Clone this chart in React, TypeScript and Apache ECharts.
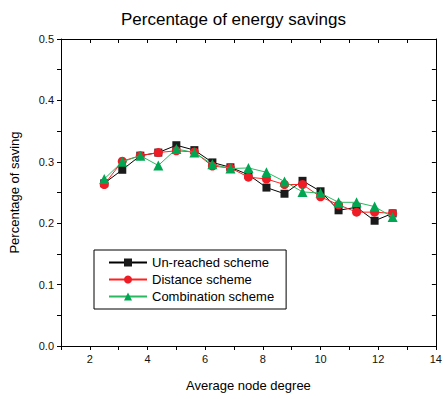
import React, { useEffect, useRef } from "react";
import * as echarts from "echarts";

const xValues = [2.5, 3.125, 3.75, 4.375, 5.0, 5.625, 6.25, 6.875, 7.5, 8.125, 8.75, 9.375, 10, 10.625, 11.25, 11.875, 12.5];
const unreached = [0.265, 0.287, 0.31, 0.315, 0.327, 0.319, 0.299, 0.291, 0.279, 0.258, 0.248, 0.269, 0.252, 0.221, 0.226, 0.204, 0.216];
const distance = [0.263, 0.301, 0.31, 0.315, 0.318, 0.316, 0.293, 0.29, 0.275, 0.272, 0.263, 0.263, 0.243, 0.23, 0.218, 0.218, 0.216];
const combination = [0.272, 0.3, 0.31, 0.294, 0.321, 0.315, 0.296, 0.289, 0.29, 0.283, 0.268, 0.251, 0.249, 0.234, 0.234, 0.227, 0.21];

const titleText = "Percentage of energy savings";
const xName = "Average node degree";
const yName = "Percentage of saving";
const seriesNames = ["Un-reached scheme", "Distance scheme", "Combination scheme"];

const FONT = "'Liberation Sans', Arial, sans-serif";

export default function App() {
  const ref = useRef<HTMLDivElement>(null);
  useEffect(() => {
    if (!ref.current) return;
    const chart = echarts.init(ref.current, undefined, { renderer: "svg" });
    const pair = (ys: number[]) => xValues.map((x, i) => [x, ys[i]]);
    const xAxisBase = {
      type: "value",
      min: 1,
      max: 14,
      interval: 1,
      splitLine: { show: false },
      axisLine: { show: true, onZero: false, lineStyle: { color: "#000", width: 1 } },
    };
    const yAxisBase = {
      type: "value",
      min: 0,
      max: 0.5,
      interval: 0.05,
      splitLine: { show: false },
      axisLine: { show: true, onZero: false, lineStyle: { color: "#000", width: 1 } },
    };
    chart.setOption({
      animation: false,
      backgroundColor: "#fff",
      textStyle: { fontFamily: FONT },
      title: {
        text: titleText,
        left: 116,
        top: 6,
        textStyle: { fontSize: 17, fontWeight: "normal", color: "#000", fontFamily: FONT },
      },
      grid: { left: 61, right: 4, top: 39, bottom: 53, containLabel: false },
      xAxis: [
        {
          ...xAxisBase,
          position: "bottom",
          name: xName,
          nameLocation: "middle",
          nameGap: 33,
          nameTextStyle: { fontSize: 13, color: "#000", fontFamily: FONT },
          axisTick: { show: true, inside: false, length: 4, lineStyle: { color: "#000" } },
          axisLabel: {
            show: true,
            fontSize: 11,
            color: "#111",
            margin: 7,
            showMinLabel: true,
            showMaxLabel: true,
            hideOverlap: false,
            formatter: (v: number) => (Math.round(v) % 2 === 0 ? String(Math.round(v)) : ""),
          },
        },
        {
          ...xAxisBase,
          position: "top",
          axisTick: { show: true, inside: true, length: 4, lineStyle: { color: "#000" } },
          axisLabel: { show: false },
        },
      ],
      yAxis: [
        {
          ...yAxisBase,
          position: "left",
          name: yName,
          nameLocation: "middle",
          nameGap: 40,
          nameTextStyle: { fontSize: 13, color: "#000", fontFamily: FONT },
          axisTick: { show: true, inside: false, length: 4, lineStyle: { color: "#000" } },
          axisLabel: {
            show: true,
            fontSize: 11,
            color: "#111",
            margin: 7,
            formatter: (v: number) => {
              const k = Math.round(v * 100);
              return k % 10 === 0 ? (k / 100).toFixed(1) : "";
            },
          },
        },
        {
          ...yAxisBase,
          position: "right",
          axisTick: { show: true, inside: true, length: 4, lineStyle: { color: "#000" } },
          axisLabel: { show: false },
        },
      ],
      legend: {
        orient: "vertical",
        left: 94,
        top: 250,
        padding: [6, 12, 6, 14],
        itemGap: 4,
        itemWidth: 38,
        itemHeight: 10,
        borderColor: "#000",
        borderWidth: 1,
        backgroundColor: "#fff",
        textStyle: { fontSize: 13, color: "#000", fontFamily: FONT },
        data: seriesNames,
      },
      series: [
        {
          name: seriesNames[0],
          type: "line",
          data: pair(unreached),
          symbol: "rect",
          symbolSize: 8,
          lineStyle: { color: "#000", width: 1 },
          itemStyle: { color: "#1a1a1a" },
          z: 3,
        },
        {
          name: seriesNames[1],
          type: "line",
          data: pair(distance),
          symbol: "circle",
          symbolSize: 9,
          lineStyle: { color: "#ff2020", width: 1 },
          itemStyle: { color: "#ee1c25" },
          z: 4,
        },
        {
          name: seriesNames[2],
          type: "line",
          data: pair(combination),
          symbol: "triangle",
          symbolSize: 10,
          lineStyle: { color: "#2ab860", width: 1 },
          itemStyle: { color: "#00a651" },
          z: 5,
        },
      ],
    });
    return () => chart.dispose();
  }, []);
  return <div ref={ref} style={{ position: "fixed", left: 0, top: 0, width: 445, height: 399 }} />;
}
